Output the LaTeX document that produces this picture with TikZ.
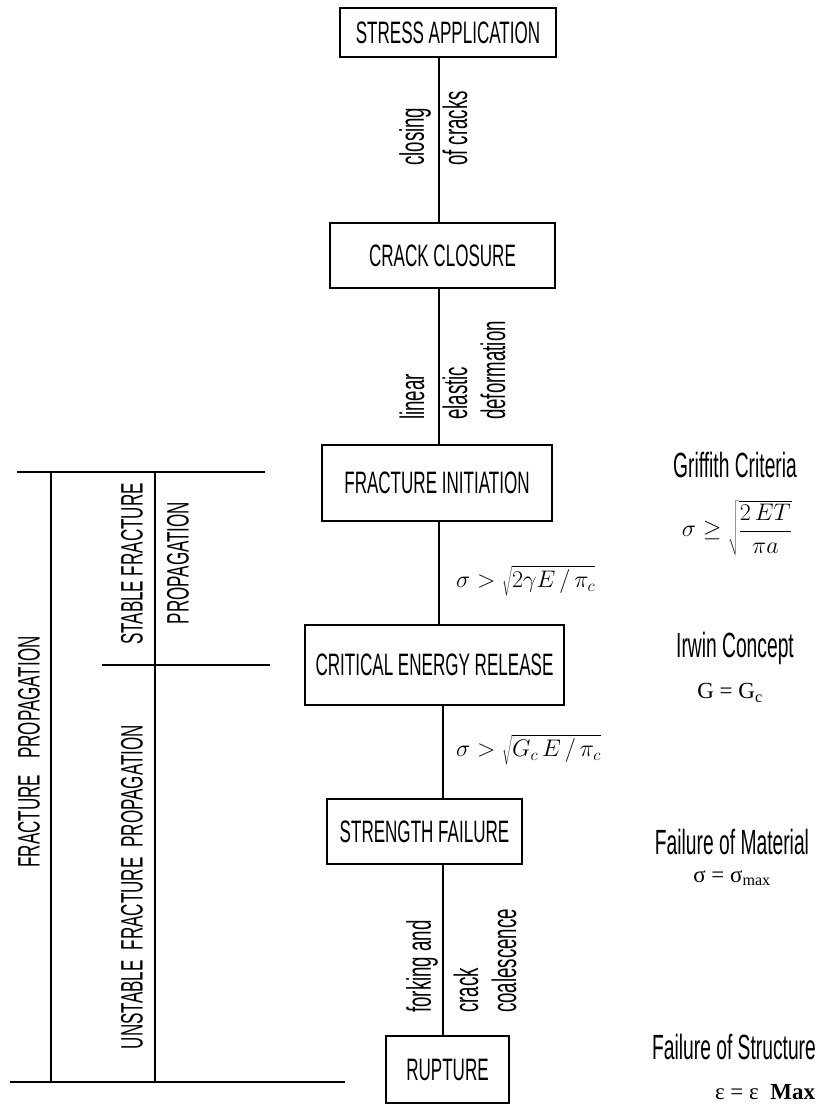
\documentclass[tikz,border=0pt]{standalone}
\usepackage{fix-cm}
\usepackage{fontspec}
\newfontfamily\cond[FakeStretch=0.55]{Liberation Sans}
\newfontfamily\tnr{Liberation Serif}
\begin{document}
\begin{tikzpicture}[x=1pt,y=-1pt,
  stagebox/.style={draw, line width=1.5pt, inner sep=0pt, align=center,
    font=\cond\fontsize{31}{31}\selectfont},
  conn/.style={line width=1.5pt},
  rule/.style={line width=1.5pt},
  vlab/.style={font=\cond\fontsize{34}{34}\selectfont, inner sep=0pt, rotate=90, anchor=west},
  sidelab/.style={font=\cond\fontsize{31}{31}\selectfont, inner sep=0pt, rotate=90},
  critlab/.style={font=\cond\fontsize{35}{35}\selectfont, inner sep=0pt},
  mathlab/.style={font=\fontsize{24}{24}\selectfont, inner sep=0pt},
  serlab/.style={font=\tnr\fontsize{23}{23}\selectfont, inner sep=0pt}]
\useasboundingbox (0,0) rectangle (819,1106);

% stage boxes
\node[stagebox, minimum width=216pt, minimum height=49pt] (sa) at (448,32.5) {STRESS APPLICATION};
\node[stagebox, minimum width=225pt, minimum height=65pt] (cc) at (442.5,255.5) {CRACK CLOSURE};
\node[stagebox, minimum width=230pt, minimum height=76pt] (fi) at (437,483) {FRACTURE INITIATION};
\node[stagebox, minimum width=259pt, minimum height=80pt] (cer) at (434.5,665) {CRITICAL ENERGY RELEASE};
\node[stagebox, minimum width=195pt, minimum height=65pt] (sf) at (424.5,831.5) {STRENGTH FAILURE};
\node[stagebox, minimum width=123pt, minimum height=67pt] (ru) at (447.5,1069.5) {RUPTURE};

% spines
\coordinate (spA) at (439,0);
\coordinate (spB) at (443,0);
\draw[conn] (sa.south -| spA) -- (cc.north -| spA);
\draw[conn] (cc.south -| spA) -- (fi.north -| spA);
\draw[conn] (fi.south -| spA) -- (cer.north -| spA);
\draw[conn] (cer.south -| spB) -- (sf.north -| spB);
\draw[conn] (sf.south -| spB) -- (ru.north -| spB);

% connector labels
\node[vlab] (l1a) at (415,166) {closing};
\node[vlab] (l1b) at (455,166) {of cracks};
\node[vlab] (l2a) at (412,420) {linear};
\node[vlab] (l2b) at (455,420) {elastic};
\node[vlab] (l2c) at (493,420) {deformation};
\node[mathlab, anchor=west] (m1) at (456,581) {$\sigma > \sqrt{2\gamma E\,/\,\pi_c}$};
\node[mathlab, anchor=west] (m2) at (456,750) {$\sigma > \sqrt{G_c\,E\,/\,\pi_c}$};
\node[vlab] (l5a) at (422,1013) {forking and};
\node[vlab] (l5b) at (466,1013) {crack};
\node[vlab] (l5c) at (504,1013) {coalescence};

% criteria on the right
\node[critlab] (gc) at (735,465) {Griffith Criteria};
\node[mathlab] (gf) at (737,528) {$\sigma \geq \sqrt{\displaystyle\frac{2\,ET}{\pi a}}$};
\node[critlab] (ic) at (735,648) {Irwin Concept};
\node[serlab] (iff) at (730,693) {G = G\textsubscript{c}};
\node[critlab] (fm) at (732,842) {Failure of Material};
\node[serlab] (fmf) at (732,878) {σ = σ\textsubscript{max}};
\node[critlab] (fs) at (734,1047) {Failure of Structure};
\node[serlab] (fsf) at (765,1092) {ε = ε \ \textbf{Max}};

% left bracket rules
\draw[rule] (17,472) -- (265,472);
\draw[rule] (102,665) -- (270,665);
\draw[rule] (10,1082) -- (345,1082);
\draw[rule] (51,472) -- (51,1082);
\draw[rule] (155,472) -- (155,1082);

% left labels
\node[sidelab] (fp) at (29,752) {FRACTURE\hspace{16pt}PROPAGATION};
\node[sidelab] (sfp1) at (132,564) {STABLE FRACTURE};
\node[sidelab] (sfp2) at (178,563) {PROPAGATION};
\node[sidelab] (ufp) at (132,887) {UNSTABLE\hspace{10pt}FRACTURE\hspace{10pt}PROPAGATION};
\end{tikzpicture}
\end{document}
